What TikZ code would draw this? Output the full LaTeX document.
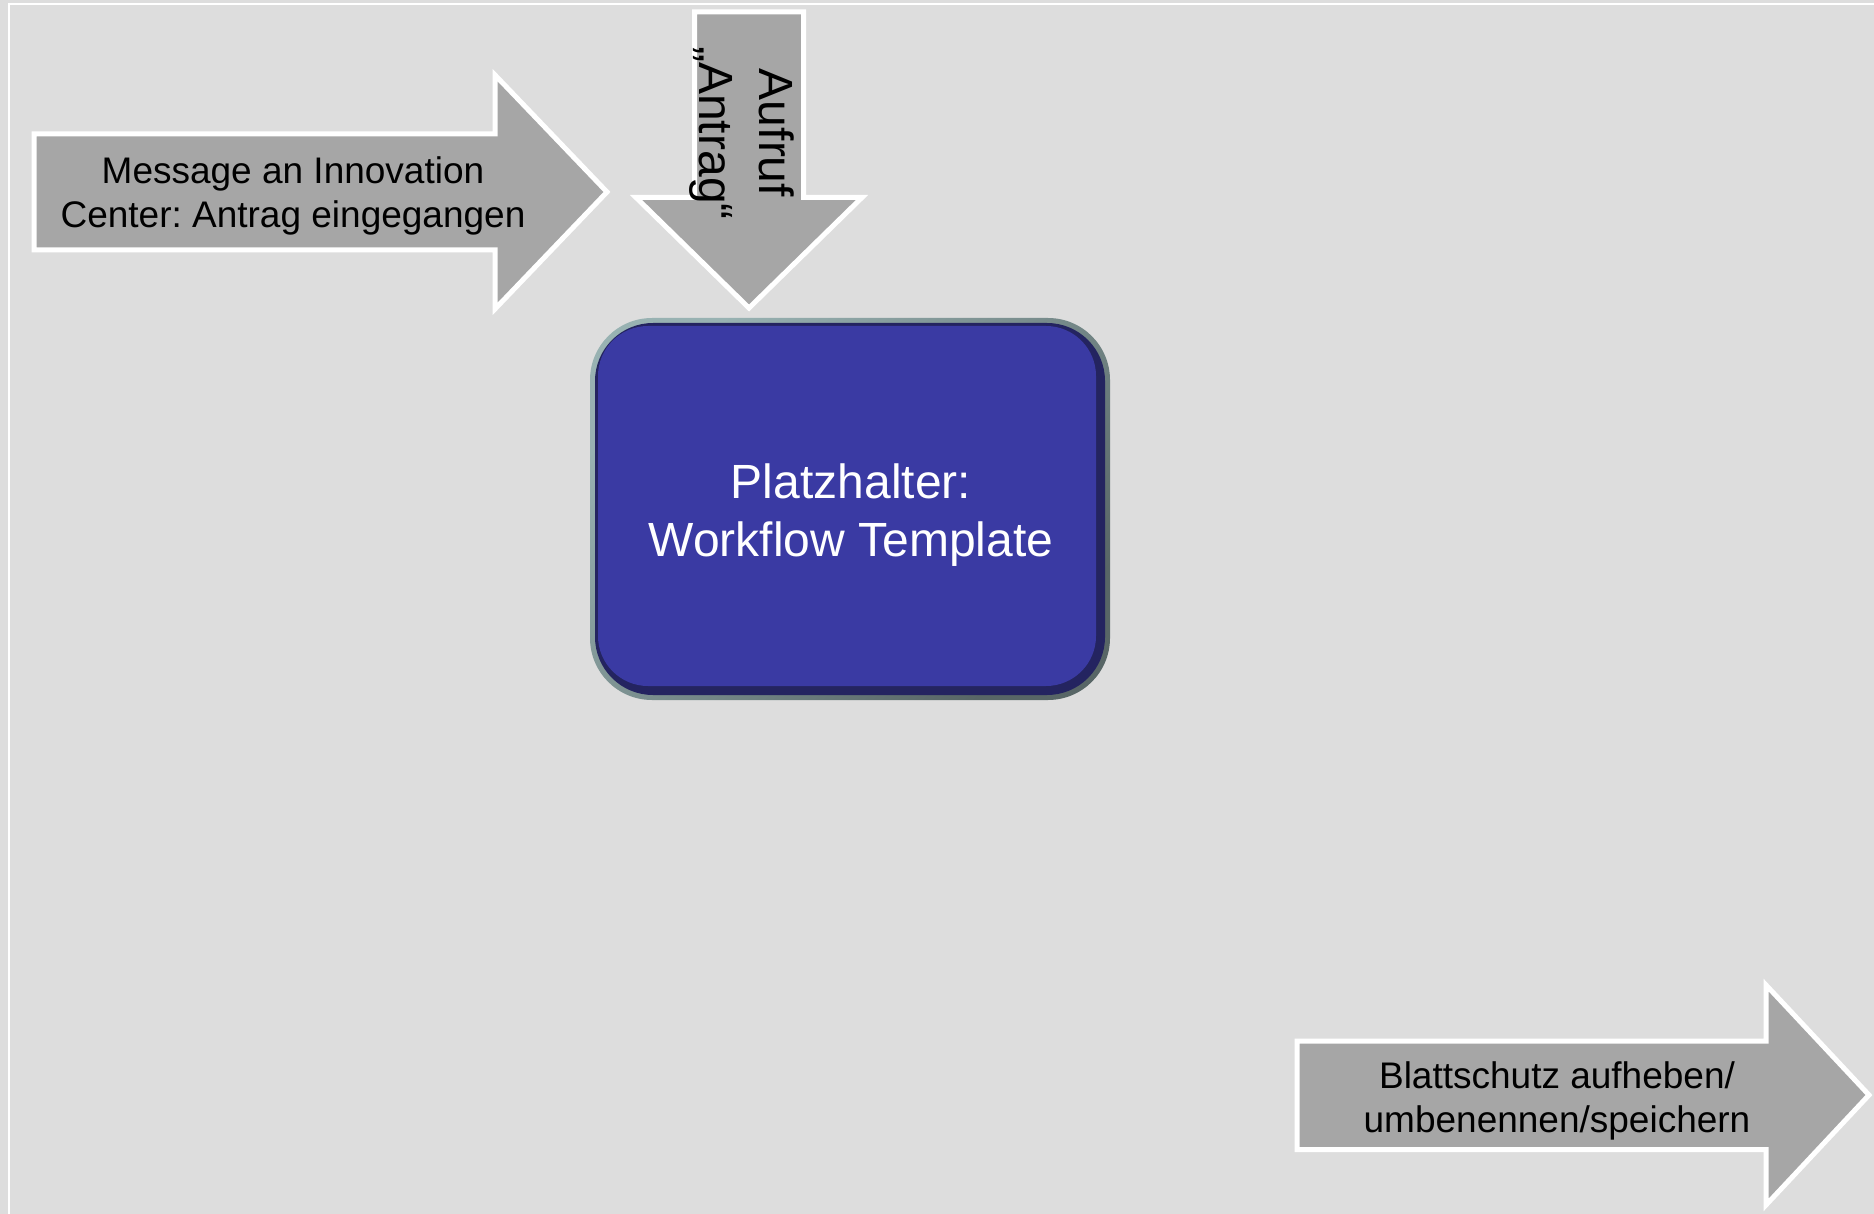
\documentclass[tikz,border=0pt]{standalone}
\usepackage{fontspec}
\setmainfont{Liberation Sans}
\frenchspacing
\definecolor{bg}{RGB}{221,221,221}
\definecolor{arrowgray}{RGB}{166,166,166}
\definecolor{bordlight}{RGB}{152,178,178}
\definecolor{borddark}{RGB}{88,102,102}
\definecolor{navy}{RGB}{36,36,96}
\definecolor{mainblue}{RGB}{58,58,163}
\begin{document}
\begin{tikzpicture}[x=0.5pt,y=-0.5pt,
  blockarrow/.style={fill=arrowgray, draw=white, line width=2.5pt},
  arrowtext/.style={font=\fontsize{18.5pt}{22.2pt}\selectfont, align=center, inner sep=0pt, text=black},
  phbox/.style={rounded corners=31pt, minimum width=260pt, minimum height=191pt, inner sep=0pt, outer sep=0pt,
    top color=bordlight, bottom color=borddark, shading angle=45,
    path picture={
      \fill[navy, rounded corners=29pt] ([shift={(2.5pt,-2.5pt)}]path picture bounding box.north west) rectangle ([shift={(-2.5pt,2.5pt)}]path picture bounding box.south east);
      \fill[mainblue, rounded corners=25pt] ([shift={(4pt,-4pt)}]path picture bounding box.north west) rectangle ([shift={(-7pt,7pt)}]path picture bounding box.south east);
    }},
  phtextstyle/.style={font=\fontsize{24pt}{29.3pt}\selectfont, align=center, inner sep=0pt, text=white}]
\useasboundingbox (0,0) rectangle (1874,1214);
\fill[bg] (0,0) rectangle (1874,1214);
\draw[white, line width=1pt] (9,1214) -- (9,3.8) -- (1874,3.8);
% arrows
\draw[blockarrow] (34,134) -- (495,134) -- (495,75) -- (607,192) -- (495,309) -- (495,250) -- (34,250) -- cycle;
\draw[blockarrow] (694.5,12) -- (803.5,12) -- (803.5,197.5) -- (862,197.5) -- (749,308) -- (636,197.5) -- (694.5,197.5) -- cycle;
\draw[blockarrow] (1297,1041) -- (1766,1041) -- (1766,985) -- (1869,1095) -- (1766,1205) -- (1766,1149.5) -- (1297,1149.5) -- cycle;
% texts
\node[arrowtext] (msg) at (293,196) {Message an Innovation\\Center: Antrag eingegangen};
\node[arrowtext] (blatt) at (1557,1101) {Blattschutz aufheben/\\umbenennen/speichern};
\node[arrowtext, font=\fontsize{24pt}{30pt}\selectfont, rotate=-90] (aufruf) at (742,133) {Aufruf\\„Antrag“};
% placeholder box
\node[phbox] (ph) at (850,509) {};
\node[phtextstyle] (phtext) at (851,515) {Platzhalter:\\Workflow Template};
\end{tikzpicture}
\end{document}
